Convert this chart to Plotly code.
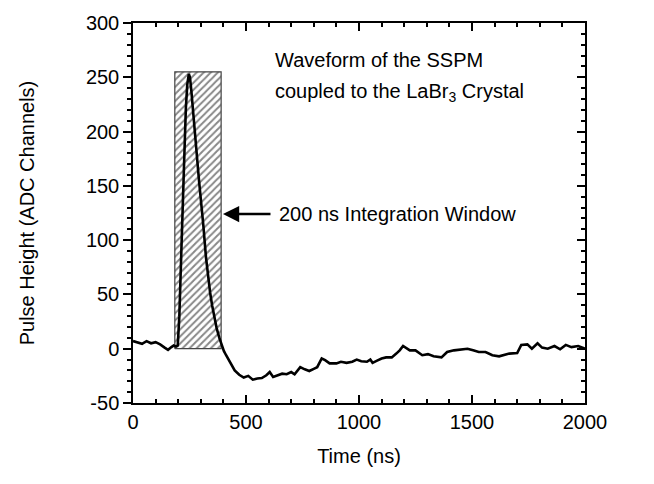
import plotly.graph_objects as go

# Waveform (time in ns, pulse height in ADC channels)
time_ns = [0, 20, 40, 60, 80, 100, 120, 140, 155, 170, 180, 190, 198,
           205, 210, 215, 220, 223, 227, 234, 240, 247, 252, 258, 264, 270,
           277, 285, 292, 300, 311, 323, 332, 341, 350, 360, 370, 382, 392,
           402, 412, 422, 432, 450, 470, 490, 510, 530, 550, 570, 590, 605,
           620, 640, 660, 680, 700, 715, 730, 740, 760, 780, 800, 815, 835,
           850, 870, 900, 920, 945, 970, 990, 1010, 1035, 1050, 1060, 1080,
           1100, 1120, 1145, 1165, 1180, 1195, 1210, 1225, 1250, 1280, 1305,
           1330, 1365, 1390, 1420, 1450, 1480, 1505, 1530, 1560, 1590, 1620,
           1640, 1665, 1700, 1718, 1745, 1765, 1790, 1810, 1835, 1865, 1890,
           1915, 1940, 1970, 2000]
pulse = [7, 6, 4.5, 7, 5, 6, 4, 1, -1, 1.5, 3, 2, 3,
         30, 60, 88, 118, 142, 177, 222, 243, 253, 250, 238, 225, 210,
         190, 172, 155, 140, 114, 84, 66, 52, 40, 29, 19, 10, 3,
         -2, -6, -10, -14, -20, -24, -26.5, -25, -28.5, -27.5, -27, -24.5, -21.5,
         -26, -24.5, -23, -23.5, -21.5, -23.5, -19.5, -17, -19, -20.5, -18.5, -17, -9,
         -10.5, -13.5, -13.5, -12, -13, -12, -10, -11.5, -12, -10, -13, -11,
         -9, -8, -8, -4.5, -1.5, 2.5, 0.5, -1.5, -1.5, -6, -5,
         -7, -8, -3, -1.5, -1, 0, -1.5, -3, -3, -6, -7,
         -6, -4.5, -4, 3.5, 4, 0, 5, 1, 0, 2.5, -0.5,
         3.5, 1.5, 2.5, 0]

# Integration window (ns) and its height
window_t = [185, 390]
window_h = [0, 255]

x_range = [0, 2000]
y_range = [-50, 300]
x_tickvals = [0, 500, 1000, 1500, 2000]
x_ticktext = ["0", "500", "1000", "1500", "2000"]
y_tickvals = [-50, 0, 50, 100, 150, 200, 250, 300]
y_ticktext = ["-50", "0", "50", "100", "150", "200", "250", "300"]

FONT = "Liberation Sans, Arial, sans-serif"
FS = 20

fig = go.Figure()

fig.add_trace(go.Scatter(
    x=[window_t[0], window_t[1], window_t[1], window_t[0], window_t[0]],
    y=[window_h[0], window_h[0], window_h[1], window_h[1], window_h[0]],
    mode="lines", fill="toself",
    fillcolor="white",
    fillpattern=dict(shape="/", size=5, solidity=0.4, fgcolor="#111111", bgcolor="white"),
    line=dict(color="#444444", width=1.2), showlegend=False, hoverinfo="skip"))

fig.add_trace(go.Scatter(x=time_ns, y=pulse, mode="lines",
                         line=dict(color="black", width=2.6), showlegend=False))

# dummy trace to activate the mirror axes
fig.add_trace(go.Scatter(x=[None], y=[None], xaxis="x2", yaxis="y2", showlegend=False))

axis_common = dict(showline=True, linecolor="black", linewidth=1.5, showgrid=False,
                   zeroline=False, tickcolor="black", tickwidth=1.5)

fig.update_layout(
    width=654, height=484,
    margin=dict(l=133, r=69, t=20, b=81),
    paper_bgcolor="white", plot_bgcolor="white",
    font=dict(family=FONT, size=FS, color="black"),
    xaxis=dict(range=x_range, tickmode="array", tickvals=x_tickvals, ticktext=x_ticktext,
               ticks="inside", ticklen=8,
               minor=dict(dtick=100, tick0=0, ticks="inside", ticklen=4, tickcolor="black", tickwidth=1.5),
               title=dict(text="Time (ns)", font=dict(size=FS), standoff=17),
               tickfont=dict(size=FS), **axis_common),
    yaxis=dict(range=y_range, tickmode="array", tickvals=y_tickvals, ticktext=y_ticktext,
               ticks="outside", ticklen=8,
               minor=dict(dtick=10, tick0=0, ticks="outside", ticklen=4, tickcolor="black", tickwidth=1.5),
               title=dict(text="Pulse Height (ADC Channels)", font=dict(size=FS), standoff=46),
               tickfont=dict(size=FS), **axis_common),
    xaxis2=dict(range=x_range, overlaying="x", side="top", dtick=500, tick0=0,
                ticks="inside", ticklen=8, showticklabels=False,
                minor=dict(dtick=100, ticks="inside", ticklen=4, tickcolor="black", tickwidth=1.5),
                **axis_common),
    yaxis2=dict(range=y_range, overlaying="y", side="right", dtick=50, tick0=0,
                ticks="inside", ticklen=8, showticklabels=False,
                minor=dict(dtick=10, ticks="inside", ticklen=4, tickcolor="black", tickwidth=1.5),
                **axis_common),
)

fig.add_annotation(x=619, y=266, text="Waveform of the SSPM", showarrow=False,
                   xanchor="left", yanchor="middle", font=dict(size=FS, family=FONT))
fig.add_annotation(x=619, y=236, text="coupled to the LaBr<sub>3</sub> Crystal", showarrow=False,
                   xanchor="left", yanchor="middle", font=dict(size=FS, family=FONT))
fig.add_annotation(x=637, y=124, text="200 ns Integration Window", showarrow=False,
                   xanchor="left", yanchor="middle", font=dict(size=FS, family=FONT))
fig.add_annotation(x=window_t[1] + 8, y=124, ax=615, ay=124, axref="x", ayref="y",
                   text="", showarrow=True, arrowhead=2, arrowsize=1.3, arrowwidth=2.5,
                   arrowcolor="black")

fig.write_html("out.html")
